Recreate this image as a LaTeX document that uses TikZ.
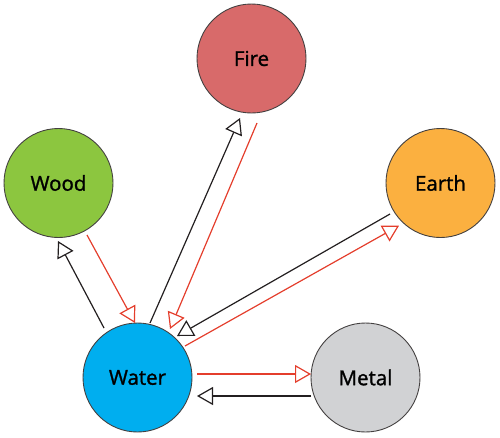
\documentclass[tikz,border=0pt]{standalone}
\usepackage{fontspec}
\setmainfont{Open Sans}
\newfontfamily\lblfont[FakeBold=1.3]{Open Sans}
\usetikzlibrary{arrows.meta,calc}
\definecolor{firec}{RGB}{216,106,106}
\definecolor{woodc}{RGB}{140,198,63}
\definecolor{earthc}{RGB}{251,176,64}
\definecolor{waterc}{RGB}{0,174,239}
\definecolor{metalc}{RGB}{209,210,212}
\definecolor{redl}{RGB}{228,62,44}
\definecolor{blkl}{RGB}{35,31,32}
\tikzset{
  elem/.style={circle,draw=blkl!85,line width=0.9pt,minimum size=109pt,inner sep=0pt,
    font=\lblfont\fontsize{20.5}{24}\selectfont,text=black},
  tipopen/.style={-{Triangle[open,length=16pt,width=18pt,line width=1.2pt]}},
  blkarrow/.style={tipopen,draw=blkl,line width=1.2pt},
  redarrow/.style={tipopen,draw=redl,line width=1.2pt}
}
\begin{document}
\begin{tikzpicture}[x=1pt,y=-1pt]
\useasboundingbox (0,0) rectangle (500,437);
\node[elem,fill=firec]  (fire)  at (251.5,58.5) {Fire};
\node[elem,fill=woodc]  (wood)  at (58.5,183)   {Wood};
\node[elem,fill=earthc] (earth) at (440.5,183)  {Earth};
\node[elem,fill=waterc] (water) at (137.5,377.5){Water};
\node[elem,fill=metalc] (metal) at (365.5,377.5){Metal};
% water - wood
\draw[blkarrow] ($(water)+(-33.5,-49.5)$) -- ($(wood)+(-0.5,58)$);
\draw[redarrow] ($(wood)+(28.5,52)$) -- ($(water)+(-2.5,-54.5)$);
% water - fire
\draw[blkarrow] ($(water)+(12.5,-54.5)$) -- ($(fire)+(-11.5,59.5)$);
\draw[redarrow] ($(fire)+(5.5,64.5)$) -- ($(water)+(32.5,-48.5)$);
% water - earth
\draw[blkarrow] ($(earth)+(-50.5,31)$) -- ($(water)+(39.5,-41.5)$);
\draw[redarrow] ($(water)+(47.5,-31.5)$) -- ($(earth)+(-41.5,42.7)$);
% water - metal
\draw[redarrow] ($(water)+(59.5,-3.5)$) -- ($(metal)+(-54.5,-3.5)$);
\draw[blkarrow] ($(metal)+(-54.5,18.5)$) -- ($(water)+(59.5,18.5)$);
\end{tikzpicture}
\end{document}
